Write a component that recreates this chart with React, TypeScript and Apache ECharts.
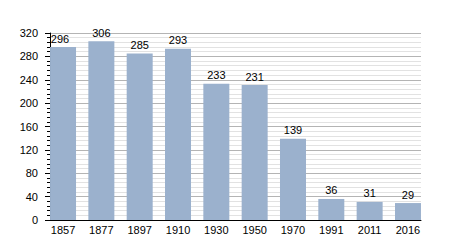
import React, { useEffect, useRef } from "react";
import * as echarts from "echarts";

const years = ["1857", "1877", "1897", "1910", "1930", "1950", "1970", "1991", "2011", "2016"];
const population = [296, 306, 285, 293, 233, 231, 139, 36, 31, 29];
const yTicks = { min: 0, max: 320, interval: 40 };

export default function App() {
  const ref = useRef<HTMLDivElement>(null);
  useEffect(() => {
    if (!ref.current) return;
    const chart = echarts.init(ref.current, undefined, { renderer: "svg" });
    const font = "Liberation Sans, Arial, sans-serif";
    chart.setOption({
      animation: false,
      grid: { left: 50, right: 29, top: 33, bottom: 30, containLabel: false },
      xAxis: {
        type: "value",
        min: -0.34,
        max: 9.34,
        splitLine: { show: false },
        axisLine: { show: true, onZero: false, lineStyle: { color: "#000", width: 1 } },
        axisTick: { show: false },
        axisLabel: {
          customValues: years.map((_, i) => i),
          formatter: (v: number) => years[Math.round(v)] ?? "",
          color: "#000",
          fontSize: 11,
          fontFamily: font,
          margin: 4,
        },
      },
      yAxis: {
        type: "value",
        min: yTicks.min,
        max: yTicks.max,
        interval: yTicks.interval,
        axisLine: { show: true, onZero: false, lineStyle: { color: "#000", width: 1 } },
        axisTick: { show: true, length: 5, lineStyle: { color: "#000" } },
        minorTick: { show: true, splitNumber: 5, length: 3, lineStyle: { color: "#000" } },
        splitLine: { show: true, lineStyle: { color: "#b4b4b4", width: 1 } },
        minorSplitLine: { show: true, lineStyle: { color: "#e2e2e2", width: 1 } },
        axisLabel: { color: "#000", fontSize: 11, fontFamily: font, margin: 12 },
      },
      series: [
        {
          type: "bar",
          data: population.map((v, i) =>
            i === 0 ? { value: [i, v], label: { offset: [-3, 0] } } : [i, v]
          ),
          barWidth: 26,
          itemStyle: { color: "#9bb1cd" },
          label: {
            show: true,
            position: "top",
            distance: 3,
            color: "#000",
            fontSize: 11,
            fontFamily: font,
          },
        },
      ],
    });
    return () => chart.dispose();
  }, []);
  return <div ref={ref} style={{ width: 450, height: 250, position: "absolute", left: 0, top: 0 }} />;
}
